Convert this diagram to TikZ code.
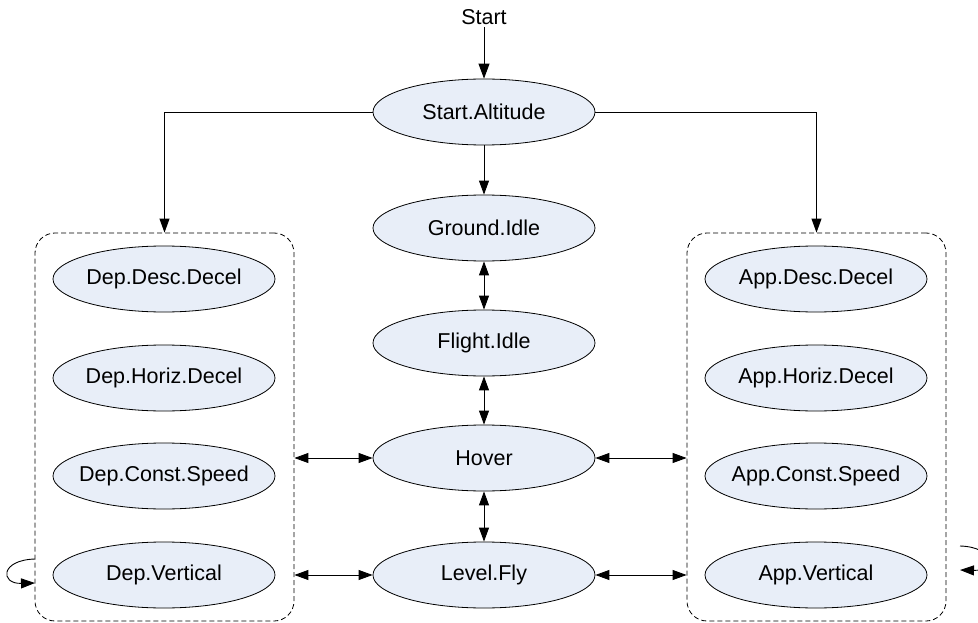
\documentclass[tikz,border=0pt]{standalone}
\usepackage{fontspec}
\setmainfont{Liberation Sans}
\usetikzlibrary{shapes.geometric,arrows.meta}
\definecolor{statefill}{RGB}{232,238,248}
\newcommand{\stxt}[1]{\makebox[100pt][c]{#1}}
\begin{document}
\begin{tikzpicture}[x=1pt,y=-1pt,
  font=\fontsize{21.5}{25}\selectfont,
  state/.style={ellipse,draw=black,fill=statefill,line width=0.8pt,
    minimum width=222pt,minimum height=66pt,inner sep=0pt},
  group/.style={draw=black,dash pattern=on 5pt off 3pt,rounded corners=20pt,
    line width=0.8pt,minimum width=259pt,minimum height=388pt,inner sep=0pt},
  conn/.style={line width=0.9pt,-{Triangle[length=14pt,width=10pt]}},
  biconn/.style={line width=0.9pt,{Triangle[length=14pt,width=10pt]}-{Triangle[length=14pt,width=10pt]}}
]
\useasboundingbox (0,0) rectangle (978,623);
\clip (0,0) rectangle (978,623);
% groups
\node[group] (lbox) at (164.5,427) {};
\node[group] (rbox) at (816.5,427) {};
% center column
\node[inner sep=2pt] (start) at (484,17) {Start};
\node[state] (sa) at (484,112) {\stxt{Start.Altitude}};
\node[state] (gi) at (484,228) {\stxt{Ground.Idle}};
\node[state] (fi) at (484,343) {\stxt{Flight.Idle}};
\node[state] (hov) at (484,458) {\stxt{Hover}};
\node[state] (lf) at (484,575) {\stxt{Level.Fly}};
% left column
\node[state] (d1) at (164,279) {\stxt{Dep.Desc.Decel}};
\node[state] (d2) at (164,378) {\stxt{Dep.Horiz.Decel}};
\node[state] (d3) at (164,476) {\stxt{Dep.Const.Speed}};
\node[state] (d4) at (164,575) {\stxt{Dep.Vertical}};
% right column
\node[state] (a1) at (816,279) {\stxt{App.Desc.Decel}};
\node[state] (a2) at (816,378) {\stxt{App.Horiz.Decel}};
\node[state] (a3) at (816,476) {\stxt{App.Const.Speed}};
\node[state] (a4) at (816,575) {\stxt{App.Vertical}};
% connectors
\draw[line width=0.9pt,-{Triangle[length=15pt,width=11pt]}] (start.south) -- (sa.north);
\draw[conn] (sa.west) -| (lbox.north);
\draw[conn] (sa.east) -| (rbox.north);
\draw[conn] (sa.south) -- (gi.north);
\draw[biconn] (gi.south) -- (fi.north);
\draw[biconn] (fi.south) -- (hov.north);
\draw[biconn] (hov.south) -- (lf.north);
\draw[biconn] (lbox.east |- hov.west) -- (hov.west);
\draw[biconn] (hov.east) -- (rbox.west |- hov.east);
\draw[biconn] (lbox.east |- lf.west) -- (lf.west);
\draw[biconn] (lf.east) -- (rbox.west |- lf.east);
% self loops
\coordinate (l1) at (35,559);
\coordinate (l2) at (35,583);
\draw[conn] (l1) .. controls (0,560) and (0,584) .. (l2);
\coordinate (r1) at (960,546);
\coordinate (r2) at (960,570);
\draw[conn] (r1) .. controls (995,547) and (995,571) .. (r2);
\end{tikzpicture}
\end{document}
